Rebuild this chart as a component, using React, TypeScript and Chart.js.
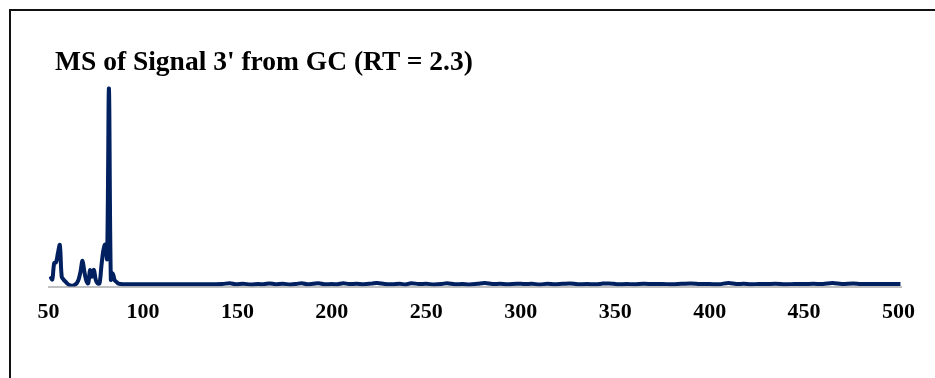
import React, { useEffect, useRef } from "react";
import { Chart, registerables } from "chart.js";

Chart.register(...registerables);

// Spectrum title
const chartTitle = "MS of Signal 3' from GC (RT = 2.3)";

// Low-mass region, one point per m/z unit
const lowMz = [
  51, 52, 53, 54, 55, 56, 57, 58, 59, 60, 61, 62, 63, 64, 65, 66, 67, 68, 69,
  70, 71, 72, 73, 74, 75, 76, 77, 78, 79, 80, 81, 82, 83, 84, 85, 86, 87,
];
const lowAbundance = [
  5.2, 3.6, 11.8, 12.2, 17, 21, 5, 3.5, 2.5, 1.5, 0.8, 0.5, 0.5, 1, 1.8, 3.8,
  7.8, 13, 7.5, 3, 1.6, 8.3, 5, 8.5, 3.5, 1.6, 1.6, 10.3, 18, 21.2, 14, 100,
  3.5, 6.6, 3.3, 2.4, 1.5,
];

// Baseline noise above m/z 87
const tailMz = [
  90, 100, 110, 120, 130, 138, 142, 146, 149, 153, 157, 161, 164, 167, 170,
  174, 178, 181, 184, 187, 190, 193, 196, 200, 203, 206, 209, 213, 217, 221,
  224, 228, 232, 236, 239, 242, 246, 250, 254, 258, 261, 265, 269, 273, 277,
  281, 285, 289, 293, 298, 302, 306, 310, 314, 318, 322, 326, 330, 335, 340,
  343, 347, 351, 356, 360, 365, 370, 375, 380, 385, 390, 395, 400, 405, 410,
  414, 418, 422, 426, 430, 435, 440, 445, 450, 455, 460, 465, 470, 476, 480,
  485, 490, 495, 501,
];
const tailAbundance = [
  1.2, 1.2, 1.2, 1.2, 1.2, 1.2, 1.3, 1.7, 1.2, 1.4, 1.1, 1.3, 1.2, 1.6, 1.2,
  1.4, 1.1, 1.3, 1.7, 1.2, 1.4, 1.7, 1.2, 1.3, 1.2, 1.7, 1.3, 1.4, 1.2, 1.5,
  1.8, 1.3, 1.2, 1.4, 1.1, 1.7, 1.3, 1.4, 1.1, 1.3, 1.7, 1.2, 1.3, 1.1, 1.4,
  1.8, 1.3, 1.4, 1.2, 1.5, 1.3, 1.4, 1.1, 1.4, 1.2, 1.4, 1.6, 1.2, 1.3, 1.2,
  1.5, 1.6, 1.2, 1.3, 1.2, 1.4, 1.3, 1.3, 1.2, 1.4, 1.6, 1.3, 1.3, 1.2, 1.8,
  1.3, 1.4, 1.2, 1.3, 1.3, 1.4, 1.2, 1.3, 1.3, 1.4, 1.3, 1.8, 1.3, 1.6, 1.3,
  1.3, 1.3, 1.3, 1.3,
];

// x-axis tick labels
const tickValues = [50, 100, 150, 200, 250, 300, 350, 400, 450, 500];

const serif = "'Liberation Serif', 'Times New Roman', serif";

export default function App() {
  const canvasRef = useRef<HTMLCanvasElement | null>(null);

  useEffect(() => {
    const canvas = canvasRef.current;
    if (!canvas) return;

    const points = [
      ...lowMz.map((mz, i) => ({ x: mz, y: lowAbundance[i] })),
      ...tailMz.map((mz, i) => ({ x: mz, y: tailAbundance[i] })),
    ];

    const chart = new Chart(canvas, {
      type: "line",
      data: {
        datasets: [
          {
            data: points,
            borderColor: "#002060",
            borderWidth: 4,
            pointRadius: 0,
            tension: 0.35,
            fill: false,
          },
        ],
      },
      options: {
        animation: false,
        responsive: false,
        maintainAspectRatio: false,
        layout: { padding: { left: 48.5, right: 33.6, top: 78.6, bottom: 39 } },
        plugins: {
          legend: { display: false },
          tooltip: { enabled: false },
          title: { display: false },
        },
        scales: {
          x: {
            type: "linear",
            min: 50,
            max: 501.5,
            afterBuildTicks: (axis: any) => {
              axis.ticks = tickValues.map((v) => ({ value: v }));
            },
            grid: { display: false, drawTicks: false },
            border: { display: true, color: "#c0c0c0", width: 2 },
            ticks: {
              padding: 13,
              color: "#000",
              maxRotation: 0,
              autoSkip: false,
              font: { family: serif, size: 22, weight: "bold" },
            },
          },
          y: {
            display: false,
            min: 0,
            max: 105,
          },
        },
      },
    });

    return () => chart.destroy();
  }, []);

  return (
    <div
      style={{
        position: "fixed",
        left: 0,
        top: 0,
        width: 935,
        height: 378,
        overflow: "hidden",
        background: "#fff",
      }}
    >
      <div
        style={{
          position: "absolute",
          left: 9,
          top: 9,
          width: 1200,
          height: 800,
          borderTop: "2px solid #111",
          borderLeft: "2px solid #111",
        }}
      />
      <canvas
        ref={canvasRef}
        width={935}
        height={378}
        style={{ position: "absolute", left: 0, top: 0, width: 935, height: 378 }}
      />
      <div
        style={{
          position: "absolute",
          left: 55,
          top: 45,
          fontFamily: serif,
          fontWeight: "bold",
          fontSize: 27.5,
          lineHeight: "32px",
          color: "#000",
          whiteSpace: "nowrap",
        }}
      >
        {chartTitle}
      </div>
    </div>
  );
}
